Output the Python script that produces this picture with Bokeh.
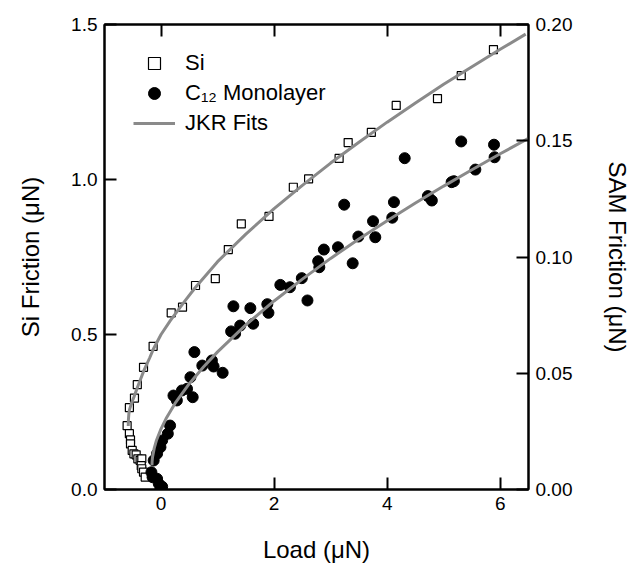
from bokeh.plotting import figure
from bokeh.models import Range1d, LinearAxis, Legend, LegendItem, FixedTicker, NumeralTickFormatter
from bokeh.embed import file_html
from bokeh.resources import INLINE

# ---- data ----
si_load = [5.88, 5.31, 4.89, 4.16, 3.72, 3.31, 3.15, 2.61, 2.34, 1.91, 1.42, 1.19, 0.96, 0.61,
           0.38, 0.18, -0.14, -0.31, -0.42, -0.47, -0.56, -0.60, -0.56, -0.54, -0.54, -0.51,
           -0.48, -0.44, -0.41, -0.37, -0.34, -0.35, -0.34, -0.31, -0.28]
si_friction = [1.419, 1.335, 1.261, 1.239, 1.152, 1.119, 1.068, 1.002, 0.975, 0.881, 0.857, 0.774,
               0.680, 0.658, 0.588, 0.570, 0.462, 0.394, 0.338, 0.295, 0.264, 0.206, 0.180, 0.160,
               0.147, 0.126, 0.115, 0.112, 0.099, 0.094, 0.099, 0.077, 0.067, 0.056, 0.040]

sam_load = [0.02, -0.01, -0.04, -0.07, -0.15, -0.17, -0.13, -0.07, -0.01, 0.02, 0.12, 0.16,
            0.22, 0.28, 0.37, 0.46, 0.52, 0.56, 0.59, 0.73, 0.90, 0.93, 1.09, 1.24, 1.31, 1.40,
            1.63, 1.28, 1.58, 1.88, 1.90, 2.11, 2.28, 2.49, 2.59, 2.78, 2.80, 2.88, 3.13, 3.24,
            3.39, 3.49, 3.75, 3.79, 4.09, 4.12, 4.31, 4.72, 4.79, 5.14, 5.18, 5.31, 5.56, 5.89, 5.90]
sam_friction = [0.0012, 0.0004, 0.0025, 0.0046, 0.0053, 0.0074, 0.0125, 0.0154, 0.0182, 0.0211,
                0.0240, 0.0275, 0.0404, 0.0383, 0.0426, 0.0433, 0.0483, 0.0397, 0.0591, 0.0533,
                0.0555, 0.0529, 0.0502, 0.0680, 0.0670, 0.0705, 0.0713, 0.0788, 0.0780, 0.0797,
                0.0760, 0.0880, 0.0870, 0.0909, 0.0813, 0.0982, 0.0956, 0.1032, 0.1042, 0.1225,
                0.0973, 0.1088, 0.1154, 0.1085, 0.1169, 0.1236, 0.1425, 0.1262, 0.1243, 0.1322,
                0.1326, 0.1497, 0.1376, 0.1483, 0.1429]

si_fit_load = [-0.58, -0.577, -0.57, -0.56, -0.52, -0.48, -0.40, -0.30, -0.20, -0.13, 0.0, 0.164,
               0.43, 0.6, 1.0, 1.5, 2.0, 2.5, 3.0, 3.5, 4.0, 4.5, 5.0, 5.5, 6.0, 6.45]
si_fit_friction = [0.205, 0.225, 0.242, 0.256, 0.280, 0.298, 0.338, 0.385, 0.425, 0.455, 0.500, 0.545,
                   0.610, 0.650, 0.735, 0.824, 0.906, 0.981, 1.053, 1.120, 1.185, 1.247, 1.307,
                   1.364, 1.420, 1.469]

sam_fit_load = [-0.16, -0.158, -0.15, -0.12, -0.08, 0.0, 0.1, 0.25, 0.5, 0.75, 1.0, 1.5, 2.0, 2.5,
                3.0, 3.5, 4.0, 4.5, 5.0, 5.5, 6.0, 6.5]
sam_fit_friction = [0.0104, 0.0120, 0.0140, 0.0178, 0.0212, 0.0261, 0.0310, 0.0371, 0.0455, 0.0527,
                    0.0592, 0.0708, 0.0811, 0.0905, 0.0994, 0.1077, 0.1156, 0.1232, 0.1305, 0.1375,
                    0.1444, 0.1510]

x_ticks = [0, 2, 4, 6]
si_ticks = [0.0, 0.5, 1.0, 1.5]
sam_ticks = [0.0, 0.05, 0.10, 0.15, 0.20]

FONT = "Liberation Sans"
GRAY = "#8a8a8a"

p = figure(width=634, height=568, x_range=Range1d(-1, 6.5), y_range=Range1d(0, 1.5),
           output_backend="svg", toolbar_location=None,
           min_border_left=104, min_border_right=105, min_border_top=24, min_border_bottom=79)
p.extra_y_ranges = {"sam": Range1d(0, 0.2)}
p.grid.visible = False
p.outline_line_color = "black"
p.outline_line_width = 2
p.background_fill_color = "white"
p.border_fill_color = "white"

xb = p.below[0]
yl = p.left[0]

right_axis = LinearAxis(y_range_name="sam")
p.add_layout(right_axis, "right")
top_axis = LinearAxis()
p.add_layout(top_axis, "above")


def style(ax, ticks, fmt):
    ax.ticker = FixedTicker(ticks=ticks)
    ax.formatter = NumeralTickFormatter(format=fmt)
    ax.major_tick_in = 12
    ax.major_tick_out = 0
    ax.minor_tick_line_color = None
    ax.axis_line_width = 2
    ax.axis_line_color = "black"
    ax.major_tick_line_width = 2
    ax.major_tick_line_color = "black"
    ax.major_label_text_font = FONT
    ax.major_label_text_font_size = "19px"
    ax.major_label_text_color = "black"
    ax.axis_label_text_font = FONT
    ax.axis_label_text_font_size = "24px"
    ax.axis_label_text_font_style = "normal"
    ax.axis_label_text_color = "black"
    ax.major_label_standoff = 7


style(xb, x_ticks, "0")
xb.axis_label = "Load (μN)"
xb.axis_label_standoff = 23

style(top_axis, x_ticks, "0")
top_axis.major_label_overrides = {t: "" for t in x_ticks}
top_axis.major_label_standoff = 0

style(yl, si_ticks, "0.0")
yl.axis_label = "Si Friction (μN)"
yl.axis_label_standoff = 24

style(right_axis, sam_ticks, "0.00")
right_axis.axis_label = "SAM Friction (μN)"
right_axis.axis_label_standoff = 29

r_si = p.scatter(si_load, si_friction, marker="square", size=8, fill_color="white",
                 line_color="black", line_width=1.2)
r_sam = p.scatter(sam_load, sam_friction, marker="circle", size=11, fill_color="black",
                  line_color="black", y_range_name="sam")
r_fit1 = p.line(si_fit_load, si_fit_friction, line_color=GRAY, line_width=3)
r_fit2 = p.line(sam_fit_load, sam_fit_friction, line_color=GRAY, line_width=3, y_range_name="sam")

legend = Legend(items=[LegendItem(label="Si", renderers=[r_si]),
                       LegendItem(label="C₁₂ Monolayer", renderers=[r_sam]),
                       LegendItem(label="JKR Fits", renderers=[r_fit1])],
                location=(29, 351))
legend.label_text_font = FONT
legend.label_text_font_size = "22px"
legend.label_text_color = "black"
legend.glyph_width = 42
legend.glyph_height = 30
legend.label_height = 30
legend.label_standoff = 10
legend.spacing = 0
legend.padding = 0
legend.margin = 0
legend.border_line_color = None
legend.background_fill_alpha = 0
p.add_layout(legend, "center")

open("out.html", "w").write(file_html(p, INLINE))
